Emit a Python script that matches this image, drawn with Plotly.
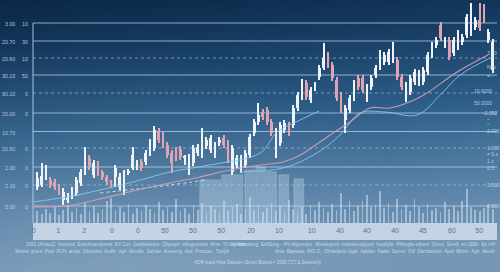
import base64
import plotly.graph_objects as go

# ---------------- data ----------------
open_ = [36, 38, 46, 43, 41, 36, 23, 23, 27, 30, 40, 51, 65, 48, 60, 51, 46, 41, 46, 36,
         31, 50, 55, 56, 61, 61, 70, 75, 91, 88, 78, 70, 73, 74, 65, 51, 60, 70, 68, 77,
         73, 68, 80, 85, 80, 51, 58, 53, 58, 68, 90, 101, 111, 113, 101, 85, 80, 93, 98, 98,
         115, 126, 140, 123, 135, 146, 155, 168, 158, 143, 128, 103, 113, 125, 145, 145, 131, 136, 148, 156,
         161, 161, 163, 163, 146, 128, 131, 141, 140, 141, 151, 168, 178, 198, 178, 183, 170, 176, 181, 188,
         190, 196, 203, 216, 183, 153]
close = [45, 47, 51, 38, 36, 31, 31, 25, 33, 43, 51, 65, 56, 60, 50, 46, 41, 38, 55, 46,
         50, 52, 68, 60, 55, 70, 80, 93, 83, 78, 68, 60, 65, 66, 66, 66, 75, 76, 91, 83,
         85, 78, 83, 78, 63, 75, 65, 65, 70, 86, 101, 108, 106, 101, 90, 90, 98, 100, 90, 115,
         128, 141, 126, 133, 138, 155, 165, 158, 145, 125, 113, 115, 125, 140, 136, 133, 136, 145, 155, 170,
         168, 171, 178, 146, 136, 138, 145, 151, 150, 153, 168, 178, 183, 185, 183, 166, 183, 190, 186, 206,
         208, 203, 195, 203, 191, 181]
high = [51, 60, 58, 46, 44, 39, 35, 30, 36, 46, 54, 76, 68, 63, 62, 53, 48, 43, 58, 50,
        53, 54, 76, 63, 64, 73, 84, 97, 95, 91, 81, 73, 76, 77, 68, 69, 78, 79, 95, 86,
        88, 81, 86, 88, 83, 78, 68, 68, 73, 89, 104, 120, 114, 116, 104, 95, 101, 103, 101, 118,
        131, 144, 143, 136, 141, 158, 180, 171, 161, 146, 131, 118, 128, 143, 148, 148, 139, 148, 158, 173,
        171, 174, 181, 166, 149, 141, 148, 154, 153, 156, 171, 181, 186, 201, 186, 186, 186, 193, 189, 209,
        220, 206, 220, 219, 194, 184]
low = [33, 36, 43, 35, 33, 28, 18, 20, 24, 27, 37, 48, 53, 45, 47, 43, 38, 35, 36, 33,
       28, 48, 53, 53, 52, 58, 67, 72, 80, 75, 65, 50, 62, 63, 58, 48, 57, 67, 65, 74,
       70, 65, 77, 75, 60, 48, 55, 50, 55, 65, 87, 98, 103, 98, 87, 65, 77, 90, 87, 95,
       112, 123, 123, 120, 132, 143, 153, 155, 142, 122, 110, 90, 110, 122, 133, 130, 121, 133, 145, 153,
       158, 158, 160, 143, 133, 121, 128, 138, 137, 138, 148, 165, 175, 182, 175, 163, 167, 173, 178, 185,
       187, 193, 192, 200, 180, 150]
volume = [12, 9, 14, 10, 16, 8, 13, 18, 11, 15,
          9, 20, 12, 17, 10, 14, 22, 25, 13, 16,
          11, 19, 9, 15, 12, 18, 14, 10, 21, 13,
          16, 11, 24, 12, 15, 9, 18, 13, 20, 11,
          17, 14, 10, 22, 12, 16, 19, 9, 14, 26,
          13, 18, 11, 15, 20, 12, 17, 10, 23, 14,
          12, 16, 9, 18, 13, 21, 15, 11, 19, 13,
          30, 14, 22, 12, 17, 22, 28, 16, 18, 32,
          15, 20, 11, 24, 14, 18, 12, 24, 16, 10,
          19, 13, 15, 11, 21, 14, 17, 12, 22, 34,
          16, 13, 12, 15, 18, 14]
block_x = [38.7, 41.2, 43.7, 46.3, 49.0, 51.6, 54.1, 56.9, 60.3]
block_v = [43, 43, 48, 48, 53, 56, 51, 48, 44]

ma_pink_x = [-1, 6.8, 14.5, 22.1, 30.6, 37.5, 44.4, 51.4, 56.7, 60.6, 64.5, 68.2, 72.1, 76.7, 81.3, 88.3, 96.8, 103.9]
ma_pink_y = [16, 17, 24, 32, 40, 46, 53, 58, 61, 68, 79, 90, 101, 115, 115, 126, 151, 168]
ma_blue_x = [-1, 6.8, 14.5, 22.1, 30.6, 39.8, 51.4, 55.3, 60.6, 65.0]
ma_blue_y = [21, 26, 33, 41, 51, 58, 70, 91, 103, 112]
ma_blue2_x = [46.7, 56.7, 64.5, 69.8, 74.4, 80.2, 87.6, 92.9, 97.5, 104.9]
ma_blue2_y = [51, 55, 70, 88, 110, 111, 108, 128, 148, 166]
ma_dot_x = [14.5, 30.6, 38.7]
ma_dot_y = [30, 38, 43]

tick_pos = [-0.8, 4.8, 10.8, 17.2, 23.2, 29.4, 35.9, 42.4, 49.3, 55.7, 63.3, 69.8, 76, 82.5, 88.9, 95.6, 101.9]
tick_txt = ["0", "1", "2", "0", "0", "50", "50", "50", "20", "10", "10", "40", "40", "40", "45", "60", "50"]

grid_levels = [200, 182, 165, 148, 130, 110, 91.5, 75, 56, 38, 17]
grid_dotted = [False, False, True, False, True, False, False, True, False, True, False]
left_col1 = ["3.00", "20.70", "20.60", "30.10", "90.10", "20.00", "10.70", "20.50", "2.00", "2.10", "5.00"]
left_col2 = ["10", "30", "10", "50", "0", "0", "", "0", "0", "0", "0"]

right_levels = [170, 156, 147, 132, 120, 110, 104, 99, 92, 75, 69, 62, 55, 38, 17]
right_text = ["3.00", "Nov", "= ·", "10.6000", "50.0000", "–2.252", "–", "–", "2.000",
              "1.000", "= 5.x", "1 x", "0.5", "2.500", "2.500"]
right_x = [485, 485, 485, 472, 472, 480, 485, 485, 485, 485, 485, 485, 485, 485, 485]

row1 = ["1001 (AIVeu)2", "Aroiumd", "Ena Amenxbemk", "EX Con", "Getibleleitive", "Qbpegtir",
        "eillogeutmits", "Mnie", "Tit Inlj Nbat", "Ine/ssmalung", "EsilSting – Pin Algiemlon,",
        "Mestiegtcid", "mtilleleinelp]ueil", "Kaplfylle", "Pillileglle sdbent", "Onnry", "Sendi",
        "eri LEEh", "Ep InH"]
row2 = ["Wester grient", "Pool", "PUN", "ander", "Dbemsnt", "Auditr", "Ajel", "Mondie", "Selmar",
        "Aneneng", "Aod", "Pnmcan,", "Tonfjdr", "Anie", "Basspee", "RIO O,", "Ohtdeltene Ugar",
        "Aabber", "Fadie", "Surner", "Oill", "Dachambon", "Ajed", "Mlonn", "Ajor", "Weekl"]
footer = "ADR sued Htos Daued ▪ Suner Bound = 2000 ☐☐ & Selenorly"

# ---------------- geometry helpers ----------------
W, H = 500, 272
ML, MR, MT, MB = 33, 3, 0, 49
PW, PH = W - ML - MR, H - MT - MB
FONT = "Liberation Sans"


def px_x(p):
    return (p - ML) / PW


def px_y(p):
    return (H - MB - p) / PH


idx = list(range(len(open_)))
WHITE, PINK = "#eef3f9", "#dfa3b1"
cols = [WHITE if c >= o else PINK for o, c in zip(open_, close)]
body_base = [min(o, c) for o, c in zip(open_, close)]
body_len = [max(abs(c - o), 1.5) for o, c in zip(open_, close)]
wick_len = [h - l for h, l in zip(high, low)]

fig = go.Figure()
fig.add_trace(go.Bar(x=idx, y=volume, width=0.4,
                     marker=dict(color="rgba(218,234,250,0.5)", line=dict(width=0)),
                     hoverinfo="skip"))
fig.add_trace(go.Bar(x=block_x, y=block_v, width=2.3,
                     marker=dict(color="rgba(205,226,246,0.34)", line=dict(color="rgba(225,238,250,0.4)", width=0.5)),
                     hoverinfo="skip"))
fig.add_trace(go.Scatter(x=ma_dot_x, y=ma_dot_y, mode="lines",
                         line=dict(color="rgba(235,242,250,0.8)", width=1, dash="dot", shape="spline")))
fig.add_trace(go.Scatter(x=ma_blue_x, y=ma_blue_y, mode="lines",
                         line=dict(color="rgba(140,200,240,0.85)", width=1, shape="spline")))
fig.add_trace(go.Scatter(x=ma_blue2_x, y=ma_blue2_y, mode="lines",
                         line=dict(color="rgba(130,195,238,0.9)", width=1, shape="spline")))
fig.add_trace(go.Scatter(x=ma_pink_x, y=ma_pink_y, mode="lines",
                         line=dict(color="rgba(215,160,180,0.9)", width=1.1, shape="spline")))
# candle wicks and bodies
fig.add_trace(go.Bar(x=idx, y=wick_len, base=low, width=0.24,
                     marker=dict(color=cols, line=dict(width=0)), hoverinfo="skip"))
fig.add_trace(go.Bar(x=idx, y=body_len, base=body_base, width=0.62,
                     marker=dict(color=cols, line=dict(width=0)), hoverinfo="skip"))

shapes = []
for lvl, dot in zip(grid_levels, grid_dotted):
    shapes.append(dict(type="line", xref="paper", yref="y", x0=0, x1=1, y0=lvl, y1=lvl,
                       line=dict(color="rgba(185,210,232,0.55)" if dot else "rgba(185,210,232,0.75)",
                                 width=1, dash="dot" if dot else "solid"), layer="below"))
shapes.append(dict(type="line", xref="paper", yref="y", x0=0, x1=0, y0=0, y1=grid_levels[0],
                   line=dict(color="rgba(185,210,232,0.75)", width=1.2), layer="below"))
# axis band
shapes.append(dict(type="rect", xref="paper", yref="paper", x0=px_x(33), x1=1.0,
                   y0=px_y(240), y1=px_y(223), fillcolor="rgba(214,226,238,0.82)",
                   line=dict(width=0), layer="below"))

annotations = []
lab_font = dict(size=5.3, color="rgba(200,216,232,0.9)", family=FONT)
for lvl, t1, t2 in zip(grid_levels, left_col1, left_col2):
    yy = (lvl - 1) / PH
    annotations.append(dict(text=t1, xref="paper", yref="paper", x=px_x(17), y=yy, xanchor="right",
                            yanchor="middle", showarrow=False, font=lab_font))
    if t2:
        annotations.append(dict(text=t2, xref="paper", yref="paper", x=px_x(30), y=yy, xanchor="right",
                                yanchor="middle", showarrow=False, font=lab_font))
for lvl, t, rx in zip(right_levels, right_text, right_x):
    annotations.append(dict(text=t, xref="paper", yref="paper", x=px_x(rx), y=lvl / PH,
                            xanchor="left", yanchor="middle", showarrow=False,
                            font=dict(size=5, color="rgba(205,220,235,0.9)", family=FONT)))

sep = "\u00a0\u00a0"
small = dict(size=4.6, color="rgba(215,228,242,0.85)", family=FONT)
half1 = len(row1) // 2
half2 = len(row2) // 2
for txt, xpx, anchor, ypx in [
        (sep.join(row1[:half1]), 24, "left", 244),
        (sep.join(row1[half1:]), 497, "right", 244),
        (sep.join(row2[:half2]), 13, "left", 251.5),
        (sep.join(row2[half2:]), 497, "right", 251.5)]:
    annotations.append(dict(text=txt, xref="paper", yref="paper", x=px_x(xpx), y=px_y(ypx),
                            xanchor=anchor, yanchor="middle", showarrow=False, font=small))
annotations.append(dict(text=footer, xref="paper", yref="paper", x=px_x(258), y=px_y(262.5),
                        xanchor="center", yanchor="middle", showarrow=False, font=small))

svg = ('<svg xmlns="http://www.w3.org/2000/svg" width="500" height="272" viewBox="0 0 500 272" '
       'preserveAspectRatio="none"><defs>'
       '<linearGradient id="g" x1="0" y1="0" x2="0.15" y2="1">'
       '<stop offset="0" stop-color="#0b2745"/><stop offset="0.2" stop-color="#153a60"/>'
       '<stop offset="0.5" stop-color="#2d5e88"/><stop offset="0.8" stop-color="#5a83a8"/>'
       '<stop offset="1" stop-color="#7596b5"/></linearGradient>'
       '<radialGradient id="r" cx="0.15" cy="0.85" r="0.7">'
       '<stop offset="0" stop-color="#ffffff" stop-opacity="0.10"/>'
       '<stop offset="1" stop-color="#ffffff" stop-opacity="0"/></radialGradient></defs>'
       '<rect width="500" height="272" fill="url(#g)"/><rect width="500" height="272" fill="url(#r)"/></svg>')
src = "data:image/svg+xml;base64," + base64.b64encode(svg.encode()).decode()

fig.update_layout(
    width=W, height=H, margin=dict(l=ML, r=MR, t=MT, b=MB),
    paper_bgcolor="#2d5e88", plot_bgcolor="rgba(0,0,0,0)",
    showlegend=False, barmode="overlay", bargap=0,
    images=[dict(source=src, xref="paper", yref="paper", x=-ML / PW, y=1 + MT / PH,
                 sizex=W / PW, sizey=H / PH, xanchor="left", yanchor="top",
                 sizing="stretch", layer="below")],
    xaxis=dict(range=[-1, 106], showgrid=False, zeroline=False, showline=False,
               tickvals=tick_pos, ticktext=tick_txt, ticks="", ticklabelstandoff=2,
               tickfont=dict(size=7, color="#56728f", family=FONT),
               fixedrange=True),
    yaxis=dict(range=[0, PH], visible=False, fixedrange=True),
    shapes=shapes, annotations=annotations,
)

fig.write_html("out.html")
